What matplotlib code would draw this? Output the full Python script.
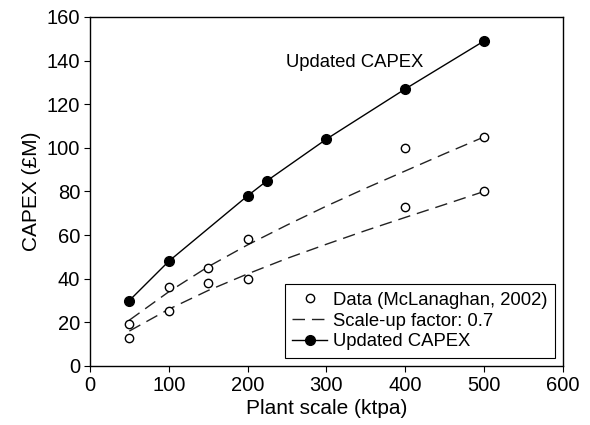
import matplotlib
matplotlib.use('Agg')
import matplotlib.pyplot as plt

plt.rcParams['font.family'] = ['Liberation Sans', 'DejaVu Sans']

# data points (McLanaghan, 2002)
data_x = [50, 50, 100, 100, 150, 150, 200, 200, 400, 400, 500, 500]
data_y = [19, 13, 36, 25, 45, 38, 58, 40, 100, 73, 105, 80]

# scale-up factor 0.7 curves
scale_x = [50, 100, 150, 200, 250, 300, 350, 400, 450, 500]
scale_hi = [21, 34, 45.5, 55.5, 64.6, 73.3, 81.5, 89.4, 97.3, 105]
scale_lo = [16, 26, 34.6, 42.2, 49.3, 55.8, 62.1, 68.1, 74, 80]

# updated capex
upd_x = [50, 100, 200, 225, 300, 400, 500]
upd_y = [30, 48, 78, 85, 104, 127, 149]

fig = plt.figure(figsize=(5.9, 4.25), dpi=100)
ax = fig.add_axes([0.1525, 0.139, 0.8015, 0.821])

ax.plot(scale_x, scale_hi, color='#222222', lw=1, ls=(0, (9, 5)), label='Scale-up factor: 0.7')
ax.plot(scale_x, scale_lo, color='#222222', lw=1, ls=(0, (9, 5)))
ax.plot(data_x, data_y, 'o', mfc='white', mec='black', ms=6, mew=1,
        ls='none', label='Data (McLanaghan, 2002)')
ax.plot(upd_x, upd_y, '-o', color='black', lw=1, ms=7, label='Updated CAPEX')

ax.text(336, 139, 'Updated CAPEX', fontsize=13.3, ha='center', va='center')

ax.set_xlim(0, 600)
ax.set_ylim(0, 160)
ax.set_xticks(range(0, 601, 100))
ax.set_yticks(range(0, 161, 20))
ax.tick_params(labelsize=14.5, direction='out', length=4, pad=3)
ax.set_xlabel('Plant scale (ktpa)', fontsize=15, labelpad=3)
ax.set_ylabel('CAPEX (£M)', fontsize=15, labelpad=4)
for s in ax.spines.values():
    s.set_linewidth(1)

h, l = ax.get_legend_handles_labels()
order = [1, 0, 2]
leg = ax.legend([h[i] for i in order], [l[i] for i in order], loc='lower right',
                fontsize=13.3, fancybox=False, edgecolor='black', framealpha=1,
                handlelength=1.9, handletextpad=0.3, borderpad=0.4,
                labelspacing=0.2, borderaxespad=0.45)
leg.get_frame().set_linewidth(0.8)

fig.savefig('out.png', dpi=100)
